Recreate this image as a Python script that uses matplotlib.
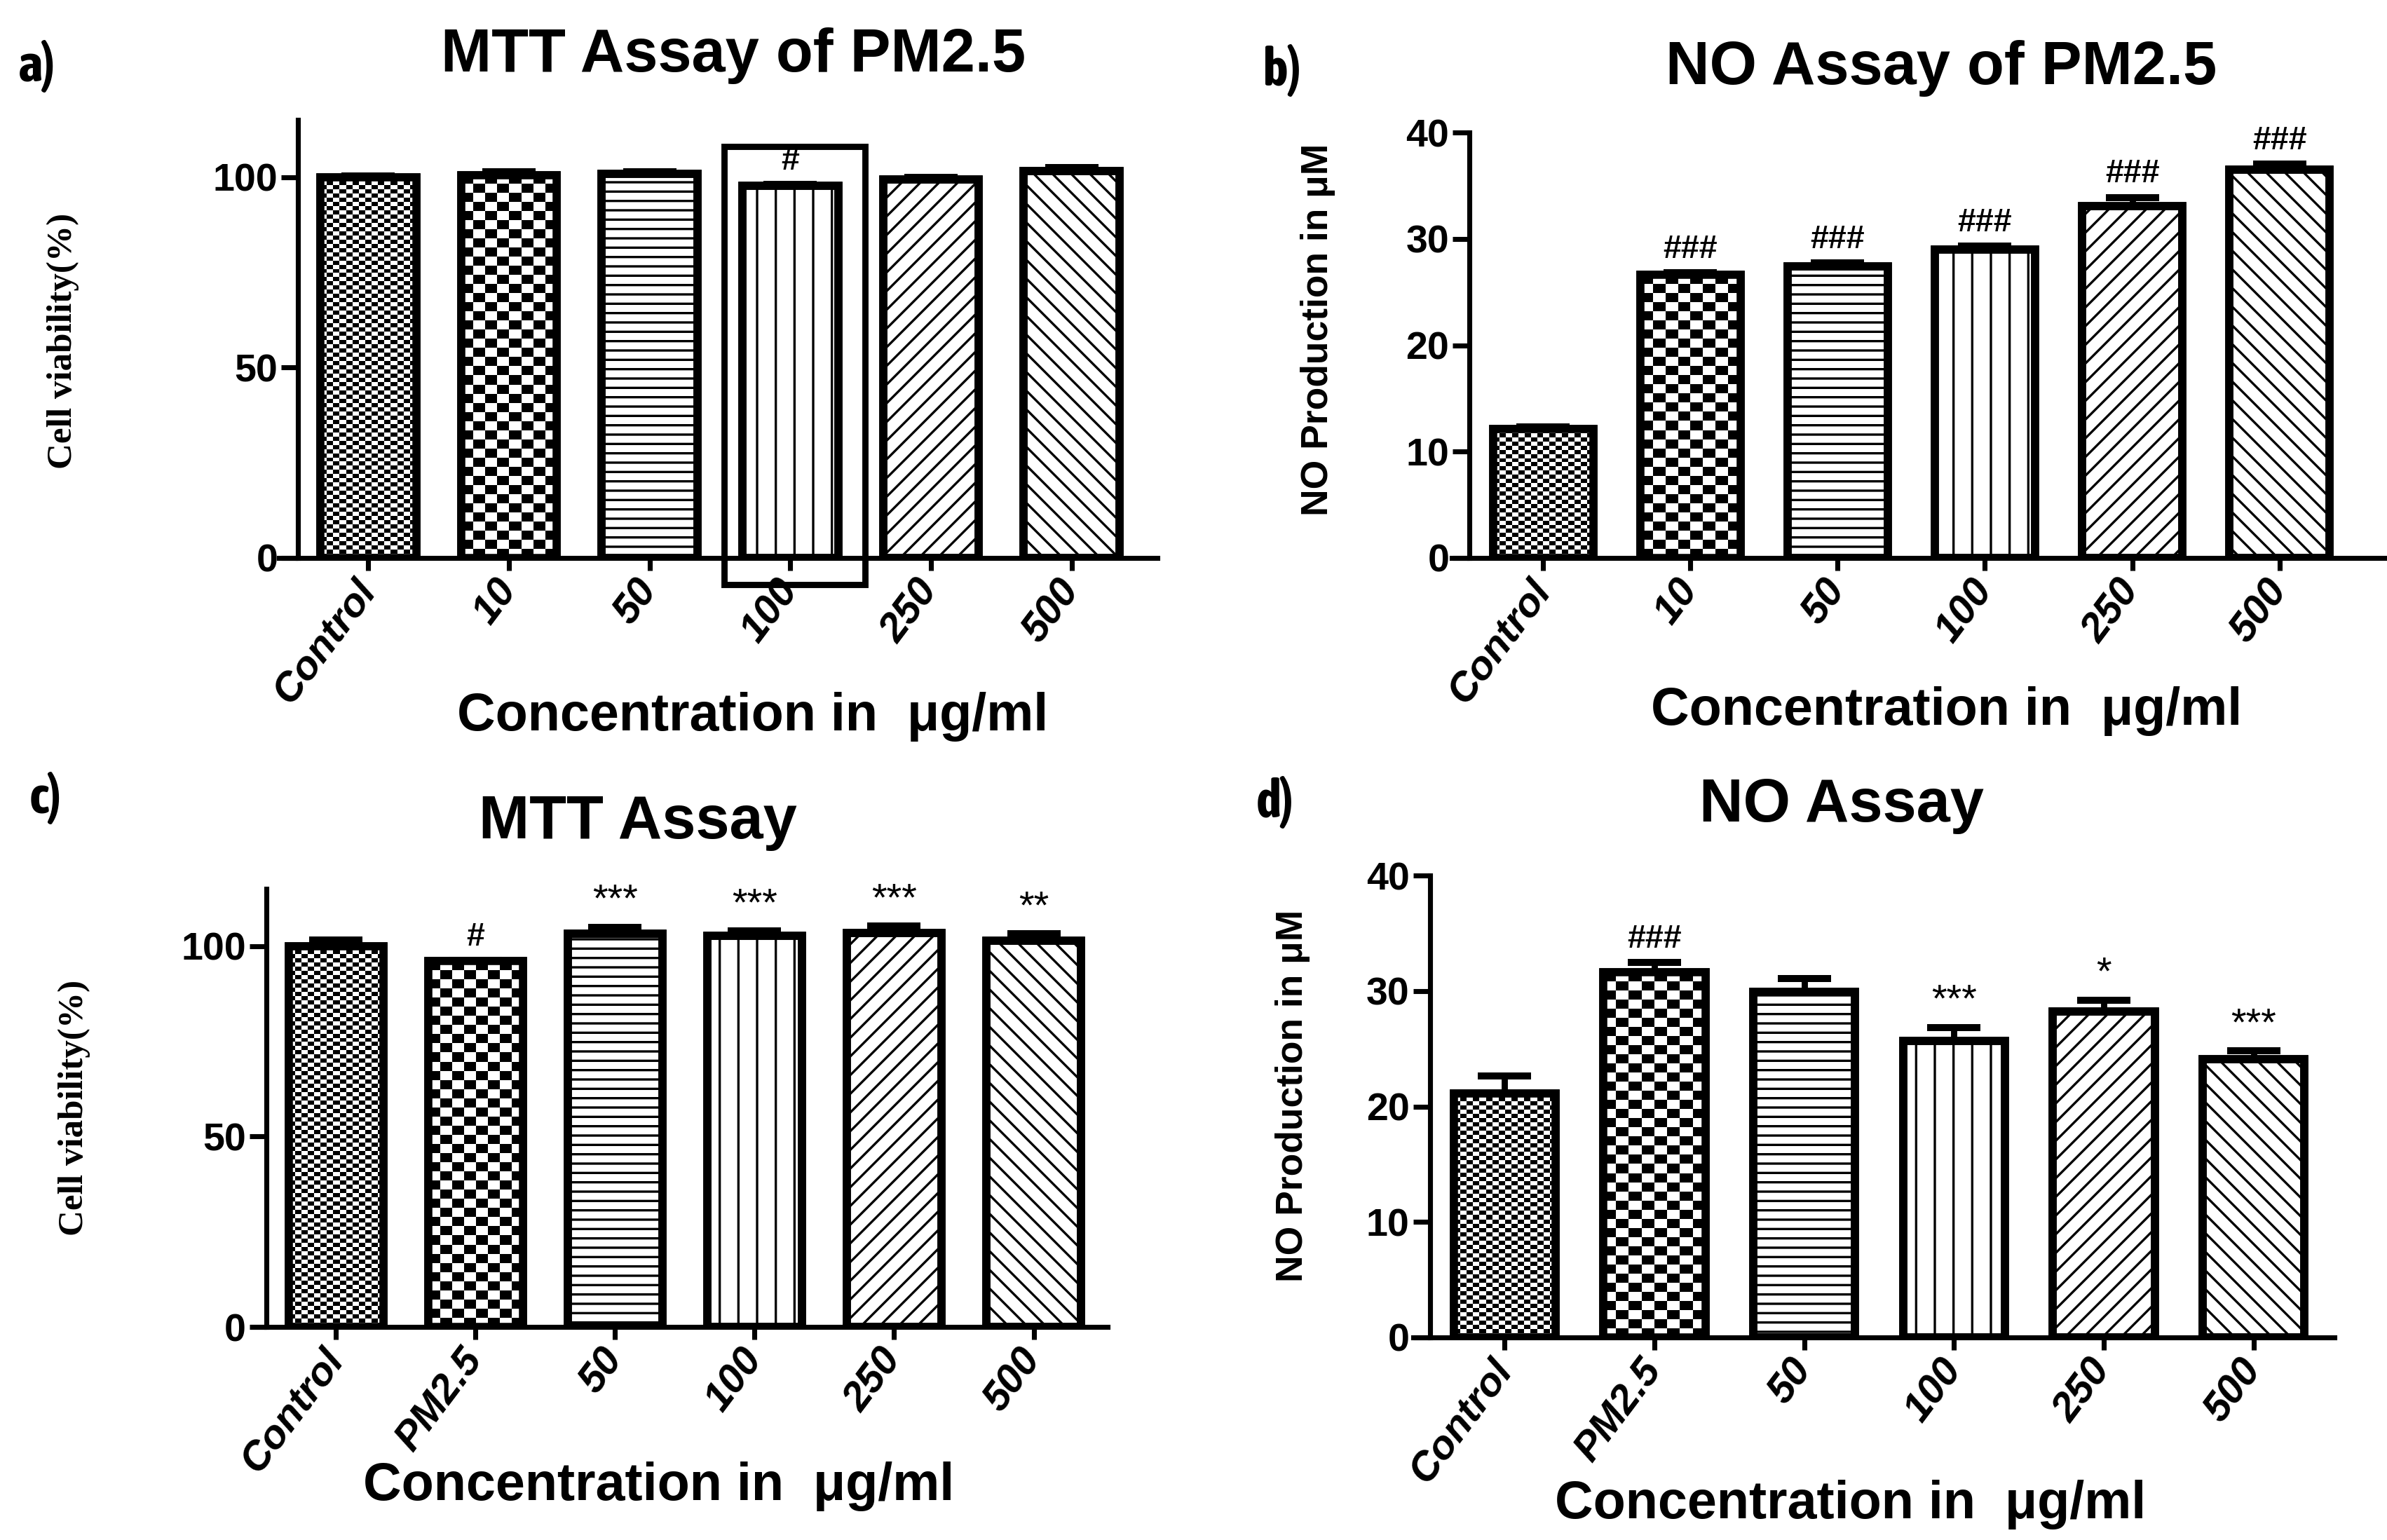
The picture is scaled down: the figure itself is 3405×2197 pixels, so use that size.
import numpy as np
import matplotlib
matplotlib.use('Agg')
import matplotlib.pyplot as plt
from matplotlib import font_manager
from matplotlib.patches import Rectangle

W, H = 3405, 2197
DPI = 160

plt.rcParams['font.family'] = ['Liberation Sans', 'DejaVu Sans']
plt.rcParams['hatch.linewidth'] = 1.5

# ---- data ----
a_labels = ['Control', '10', '50', '100', '250', '500']
a_values = [100.0, 100.5, 100.9, 97.7, 99.4, 101.5]
a_errors = [0.2, 0.8, 0.4, 0.3, 0.5, 1.0]
a_marks = ['', '', '', '#', '', '']

b_labels = ['Control', '10', '50', '100', '250', '500']
b_values = [12.1, 26.6, 27.4, 29.0, 33.1, 36.5]
b_errors = [0.2, 0.2, 0.35, 0.3, 0.8, 0.55]
b_marks = ['', '###', '###', '###', '###', '###']

c_labels = ['Control', 'PM2.5', '50', '100', '250', '500']
c_values = [100.0, 96.0, 103.2, 102.7, 103.4, 101.4]
c_errors = [1.5, 0.3, 1.7, 1.2, 1.8, 1.8]
c_marks = ['', '#', '***', '***', '***', '**']

d_labels = ['Control', 'PM2.5', '50', '100', '250', '500']
d_values = [21.15, 31.6, 29.9, 25.7, 28.2, 24.1]
d_errors = [1.5, 0.85, 1.15, 1.15, 1.0, 0.7]
d_marks = ['', '###', '', '***', '*', '***']

patterns = ['fine', 'checker', '--', '|', '//', '\\\\']


def weight_num(w):
    if isinstance(w, str):
        return font_manager.weight_dict.get(w, 400)
    return w


def find_bold_italic():
    for fam in ['Liberation Sans', 'Roboto', 'Open Sans', 'Lato', 'Noto Sans', 'DejaVu Sans']:
        for f in font_manager.fontManager.ttflist:
            if f.name == fam and f.style in ('italic', 'oblique') and weight_num(f.weight) >= 600:
                return fam
    return 'DejaVu Sans'


def find_condensed():
    for f in font_manager.fontManager.ttflist:
        if ('Narrow' in f.name or 'Condensed' in f.name) and weight_num(f.weight) >= 600:
            return f.name, 'normal'
    for f in font_manager.fontManager.ttflist:
        if str(f.stretch) in ('condensed', 'semi-condensed', 'extra-condensed') and weight_num(f.weight) >= 600:
            return f.name, f.stretch
    return 'Liberation Sans', 'normal'


ITALIC_FAMILY = find_bold_italic()
COND_FAMILY, COND_STRETCH = find_condensed()


def add_axes_px(fig, left, right, bottom, top):
    return fig.add_axes([left / W, 1 - bottom / H, (right - left) / W, (bottom - top) / H])


def checker_fill(ax, x0, x1, y0, y1, cell_w, cell_h):
    (px0, py0), (px1, py1) = ax.transData.transform([(x0, y0), (x1, y1)])
    ncol = max(1, int(round((px1 - px0) / cell_w)))
    nrow = max(1, int(round((py1 - py0) / cell_h)))
    grid = np.indices((nrow, ncol)).sum(axis=0) % 2
    ax.imshow(grid, cmap='gray', vmin=0, vmax=1, extent=(x0, x1, y0, y1),
              origin='upper', interpolation='nearest', aspect='auto', zorder=2.5)


def draw_panel(ax, labels, values, errors, marks, ymax, yticks, xlim):
    x = np.arange(len(labels))
    width = 0.68
    ax.set_xlim(*xlim)
    ax.set_ylim(0, ymax)
    ax.set_autoscale_on(False)
    for i, (v, p) in enumerate(zip(values, patterns)):
        hatch = None if p in ('fine', 'checker') else p
        ax.bar(x[i], v, width, facecolor='white', edgecolor='black',
               linewidth=5.2, hatch=hatch, zorder=2)
        if p == 'fine':
            checker_fill(ax, x[i] - width / 2, x[i] + width / 2, 0, v, 9, 6)
        elif p == 'checker':
            checker_fill(ax, x[i] - width / 2, x[i] + width / 2, 0, v, 18, 13)
        ax.bar(x[i], v, width, facecolor='none', edgecolor='black',
               linewidth=5.2, zorder=3)
    ax.errorbar(x, values, yerr=[np.zeros(len(values)), errors], fmt='none',
                ecolor='black', elinewidth=4, capsize=17, capthick=4.5, zorder=4)
    for i, m in enumerate(marks):
        if m:
            fs = 21 if '#' in m else 25
            ax.annotate(m, (x[i], values[i] + errors[i]), xytext=(0, 5),
                        textcoords='offset points', ha='center', va='bottom',
                        fontsize=fs, fontweight='bold' if '#' in m else 'normal')
    for s in ('top', 'right'):
        ax.spines[s].set_visible(False)
    ax.spines['left'].set_position(('data', -0.5))
    ax.spines['left'].set_linewidth(3.2)
    ax.spines['bottom'].set_linewidth(3.2)
    ax.set_yticks(yticks)
    ax.set_yticklabels([str(t) for t in yticks], fontsize=25, fontweight='bold')
    ax.tick_params(axis='y', length=11, width=3.2, pad=2)
    ax.set_xticks(x)
    ax.set_xticklabels(labels, fontsize=26, fontweight='bold', fontstyle='italic',
                       family=ITALIC_FAMILY, rotation=53, ha='right', va='center',
                       rotation_mode='anchor')
    ax.tick_params(axis='x', length=8, width=3.2, pad=9)


def fig_text(fig, x, y, s, **kw):
    fig.text(x / W, 1 - y / H, s, **kw)


fig = plt.figure(figsize=(W / DPI, H / DPI), dpi=DPI)

ax_a = add_axes_px(fig, 398, 1651, 796, 171)
draw_panel(ax_a, a_labels, a_values, a_errors, a_marks, 115, [0, 50, 100], (-0.635, 5.61))
ax_a.add_patch(Rectangle((2.53, -7.0), 1.0, 115.0, fill=False, edgecolor='black',
                         linewidth=4, clip_on=False, zorder=5))

ax_b = add_axes_px(fig, 2071, 3405, 796, 189)
draw_panel(ax_b, b_labels, b_values, b_errors, b_marks, 40, [0, 10, 20, 30, 40], (-0.62, 5.73))

ax_c = add_axes_px(fig, 360, 1580, 1893, 1268)
draw_panel(ax_c, c_labels, c_values, c_errors, c_marks, 115, [0, 50, 100], (-0.6, 5.53))

ax_d = add_axes_px(fig, 2016, 3330, 1908, 1249)
draw_panel(ax_d, d_labels, d_values, d_errors, d_marks, 40, [0, 10, 20, 30, 40], (-0.61, 5.54))

# titles
title_kw = dict(fontsize=39, fontweight='bold', ha='center', va='center')
fig_text(fig, 1046, 80, 'MTT Assay of PM2.5', **title_kw)
fig_text(fig, 2769, 98, 'NO Assay of PM2.5', **title_kw)
fig_text(fig, 910, 1173, 'MTT Assay', **title_kw)
fig_text(fig, 2627, 1149, 'NO Assay', **title_kw)

# panel letters
letter_kw = dict(fontsize=34, fontweight='bold', ha='left', va='center',
                 family=[COND_FAMILY, 'DejaVu Sans'], fontstretch=COND_STRETCH)
fig_text(fig, 26, 95, 'a)', **letter_kw)
fig_text(fig, 1802, 100, 'b)', **letter_kw)
fig_text(fig, 42, 1138, 'c)', **letter_kw)
fig_text(fig, 1792, 1145, 'd)', **letter_kw)

# x labels
xl_kw = dict(fontsize=34, fontweight='bold', ha='center', va='center')
fig_text(fig, 1074, 1022, 'Concentration in  \u03bcg/ml', **xl_kw)
fig_text(fig, 2777, 1015, 'Concentration in  \u03bcg/ml', **xl_kw)
fig_text(fig, 940, 2120, 'Concentration in  \u03bcg/ml', **xl_kw)
fig_text(fig, 2640, 2146, 'Concentration in  \u03bcg/ml', **xl_kw)

# y labels
cv_kw = dict(fontsize=23, fontweight='bold', rotation=90, ha='center', va='center',
             family=['Liberation Serif', 'DejaVu Serif'])
fig_text(fig, 90, 486, 'Cell viability(%)', **cv_kw)
fig_text(fig, 106, 1580, 'Cell viability(%)', **cv_kw)
no_kw = dict(fontsize=24, fontweight='bold', rotation=90, ha='center', va='center')
fig_text(fig, 1880, 470, 'NO Production in \u03bcM', **no_kw)
fig_text(fig, 1844, 1563, 'NO Production in \u03bcM', **no_kw)

fig.savefig('out.png', dpi=DPI, facecolor='white')
